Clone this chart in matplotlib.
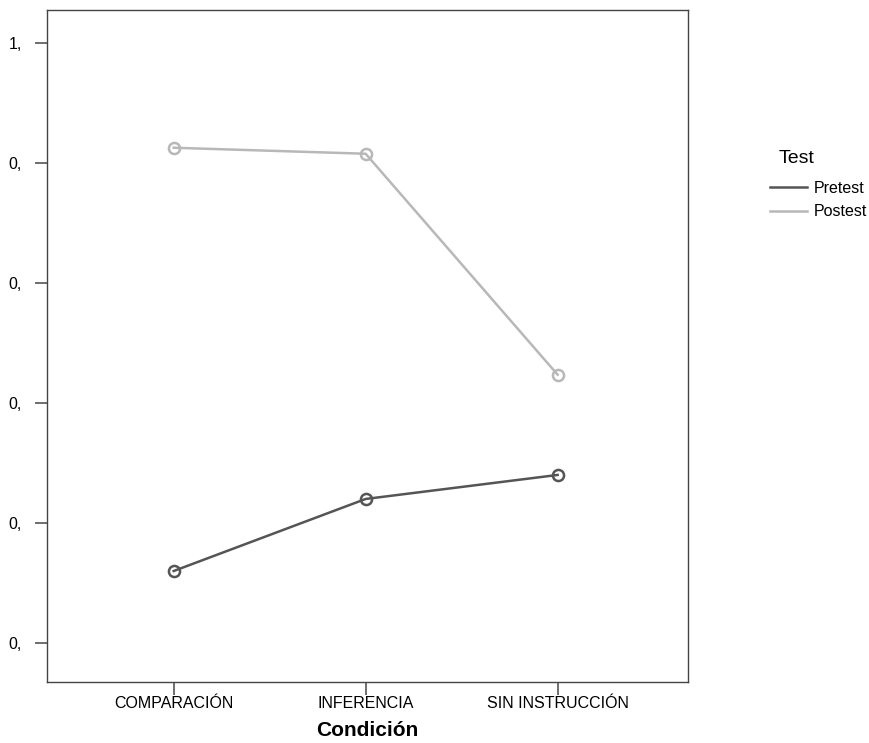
import matplotlib.pyplot as plt

plt.rcParams['font.family'] = ['Liberation Sans', 'DejaVu Sans']

# data
condiciones = ['COMPARACIÓN', 'INFERENCIA', 'SIN INSTRUCCIÓN']
pretest = [0.12, 0.24, 0.28]
postest = [0.825, 0.815, 0.447]
yticks = [0.0, 0.2, 0.4, 0.6, 0.8, 1.0]
ytick_labels = ['0,', '0,', '0,', '0,', '0,', '1,']

fig = plt.figure(figsize=(8.7, 7.43), dpi=100)
ax = fig.add_axes([0.054, 0.082, 0.737, 0.905])

x = range(len(condiciones))
l1, = ax.plot(x, pretest, color='#555555', lw=1.8, marker='o', ms=8,
              mfc='none', mew=1.8, label='Pretest')
l2, = ax.plot(x, postest, color='#b8b8b8', lw=1.8, marker='o', ms=8,
              mfc='none', mew=1.8, label='Postest')

ax.set_xlim(-0.66, 2.68)
ax.set_ylim(-0.065, 1.055)
ax.set_xticks(list(x))
ax.set_xticklabels(condiciones, fontsize=11.5)
ax.set_yticks(yticks)
ax.set_yticklabels(ytick_labels, fontsize=11.5)
ax.tick_params(direction='out', length=9, width=1.2, color='#555555')
ax.tick_params(axis='x', pad=1)
ax.tick_params(axis='y', pad=9)
for s in ax.spines.values():
    s.set_color('#444444')
    s.set_linewidth(1.0)
ax.set_xlabel('Condición', fontsize=15, fontweight='bold', labelpad=7)

fig.text(0.895, 0.787, 'Test', fontsize=14, ha='left', va='center')
fig.legend(handles=[l1, l2], labels=['Pretest', 'Postest'],
           loc='upper left', bbox_to_anchor=(0.885, 0.757), frameon=False,
           fontsize=11.5, handlelength=2.3, handletextpad=0.45,
           labelspacing=0.55, borderaxespad=0, borderpad=0)
for h in fig.legends[0].legend_handles:
    h.set_marker('')

fig.savefig('out.png', dpi=100)
